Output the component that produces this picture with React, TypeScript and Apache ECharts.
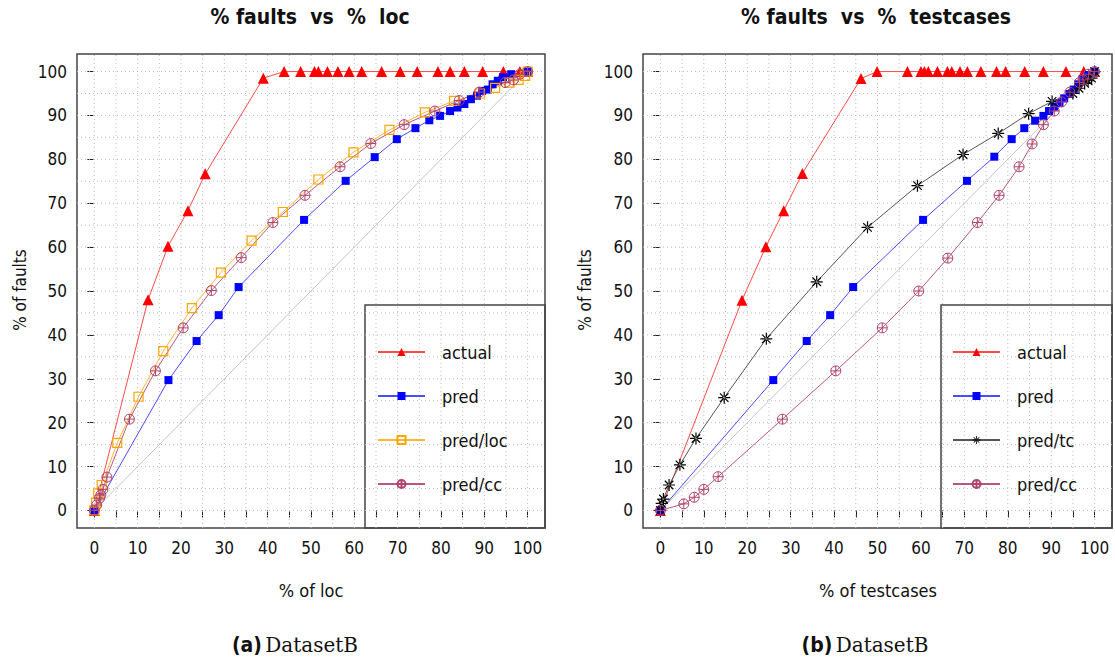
import React, { useEffect, useRef } from "react";
import * as echarts from "echarts";

const FONT = "'Liberation Sans Narrow', 'DejaVu Sans Condensed', 'Liberation Sans', Arial, sans-serif";
const SERIF = "'DejaVu Serif', 'Liberation Serif', serif";
const CAPTION_BOLD = "'DejaVu Sans Condensed', 'Liberation Sans Narrow', sans-serif";

// Gridline, tick and label positions (percent)
const gridValues = [0, 5, 10, 15, 20, 25, 30, 35, 40, 45, 50, 55, 60, 65, 70, 75, 80, 85, 90, 95, 100];
const xTickValues = [0, 5, 10, 15, 20, 25, 30, 35, 40, 45, 50, 55, 60, 65, 70, 75, 80, 85, 90, 95, 100];
const labelValues = [0, 10, 20, 30, 40, 50, 60, 70, 80, 90, 100];
const yTickValues = [0, 10, 20, 30, 40, 50, 60, 70, 80, 90, 100];

// (a) % faults vs % loc
const locActualX = [0, 12.4, 17.0, 21.6, 25.6, 39.0, 43.8, 47.6, 50.8, 51.7, 53.8, 56.2, 58.8, 61.7, 66.3, 70.6, 74.5, 79.3, 82.1, 85.4, 89.6, 94.4, 98.2, 100];
const locActualY = [0, 48.0, 60.2, 68.3, 76.7, 98.5, 100, 100, 100, 100, 100, 100, 100, 100, 100, 100, 100, 100, 100, 100, 100, 100, 100, 100];
const locPredX = [0, 17.1, 23.6, 28.7, 33.3, 48.4, 58.0, 64.7, 69.8, 74.1, 77.3, 79.8, 82.1, 83.8, 85.4, 86.9, 88.3, 89.5, 90.8, 91.9, 93.1, 94.3, 96.2, 100];
const locPredY = [0, 29.7, 38.6, 44.5, 50.9, 66.2, 75.1, 80.5, 84.6, 87.1, 88.9, 89.9, 91.0, 91.8, 92.6, 93.7, 94.5, 95.6, 95.9, 97.1, 97.9, 98.7, 99.4, 100];
const locLocX = [0, 0.4, 0.9, 1.7, 5.3, 10.2, 15.9, 22.5, 29.2, 36.3, 43.5, 51.7, 59.8, 68.1, 76.3, 83.0, 89.0, 92.5, 95.8, 97.9, 99.4, 100];
const locLocY = [0, 1.8, 3.9, 5.8, 15.4, 25.9, 36.3, 46.1, 54.2, 61.5, 68.0, 75.4, 81.6, 86.7, 90.7, 93.3, 95.0, 96.3, 97.5, 98.1, 99.0, 100];
const locCcX = [0, 0.55, 1.2, 1.5, 2.0, 2.9, 8.1, 14.1, 20.5, 27.0, 33.9, 41.2, 48.6, 56.7, 63.8, 71.5, 78.6, 84.2, 88.8, 94.8, 96.7, 98.2, 100];
const locCcY = [0, 1.25, 2.8, 3.5, 4.8, 7.6, 20.8, 31.8, 41.6, 50.1, 57.6, 65.6, 71.8, 78.3, 83.6, 87.9, 91.0, 93.4, 95.3, 97.5, 98.1, 99.4, 100];

// (b) % faults vs % testcases
const tcActualX = [0, 18.8, 24.3, 28.4, 32.7, 46.2, 49.9, 56.9, 60.0, 60.8, 61.7, 63.8, 66.1, 67.1, 69.0, 70.7, 73.8, 77.4, 79.5, 83.9, 88.2, 93.4, 97.5, 100];
const tcActualY = [0, 47.9, 60.1, 68.3, 76.8, 98.4, 100, 100, 100, 100, 100, 100, 100, 100, 100, 100, 100, 100, 100, 100, 100, 100, 100, 100];
const tcPredX = [0, 26.0, 33.7, 39.1, 44.4, 60.5, 70.6, 76.9, 80.9, 83.8, 86.3, 88.2, 89.5, 90.7, 91.9, 93.0, 94.2, 95.2, 96.2, 97.2, 98.4, 100];
const tcPredY = [0, 29.7, 38.6, 44.5, 50.9, 66.2, 75.1, 80.6, 84.6, 87.1, 88.8, 89.9, 91.0, 92.0, 92.8, 93.9, 94.9, 95.9, 97.1, 98.2, 99.2, 100];
const tcTcX = [0, 0.3, 0.7, 2.0, 4.5, 8.2, 14.7, 24.4, 36.0, 47.7, 59.2, 69.7, 77.8, 84.8, 90.2, 95.0, 96.4, 97.7, 98.5, 99.3, 100];
const tcTcY = [0, 1.6, 2.6, 5.8, 10.4, 16.4, 25.7, 39.1, 52.1, 64.5, 74.0, 81.1, 85.9, 90.4, 93.2, 95.0, 96.2, 97.3, 97.9, 98.5, 100];
const tcCcX = [0, 5.4, 7.8, 10.0, 13.3, 28.1, 40.4, 51.1, 59.5, 66.2, 73.0, 78.0, 82.6, 85.6, 88.2, 90.7, 92.4, 94.3, 96.5, 97.3, 98.6, 100];
const tcCcY = [0, 1.5, 3.0, 4.8, 7.7, 20.8, 31.8, 41.6, 50.0, 57.5, 65.6, 71.8, 78.3, 83.5, 87.9, 91.0, 93.1, 95.3, 97.5, 98.1, 99.4, 100];

// Reference diagonal
const diagX = [0, 100];
const diagY = [0, 100];

// Circle with a plus, stroked
const CIRCLE_PLUS = "path://M0,-10A10,10 0 1,1 0,10A10,10 0 1,1 0,-10ZM-10,0L10,0M0,-10L0,10";
// Eight-armed asterisk built from thin filled bars
const ASTERISK =
  "path://M-10,-1L10,-1L10,1L-10,1Z" +
  "M-1,-10L1,-10L1,10L-1,10Z" +
  "M6.36,7.78L7.78,6.36L-6.36,-7.78L-7.78,-6.36Z" +
  "M7.78,-6.36L6.36,-7.78L-7.78,6.36L-6.36,7.78Z";

const pairs = (xs: number[], ys: number[]) => xs.map((x, i) => [x, ys[i]]);

type Style = { name: string; symbol: string; size: number; fill: string; stroke: string; strokeWidth: number; line: string };

const STYLES: Record<string, Style> = {
  actual: { name: "actual", symbol: "triangle", size: 11, fill: "#ff0000", stroke: "#ff0000", strokeWidth: 0, line: "#ff4a4a" },
  pred: { name: "pred", symbol: "rect", size: 8, fill: "#0000ff", stroke: "#0000ff", strokeWidth: 0, line: "#4a4aff" },
  loc: { name: "pred/loc", symbol: "rect", size: 9, fill: "rgba(0,0,0,0)", stroke: "#ffa500", strokeWidth: 1.2, line: "#ffb733" },
  cc: { name: "pred/cc", symbol: CIRCLE_PLUS, size: 10, fill: "rgba(0,0,0,0)", stroke: "#b0446e", strokeWidth: 1, line: "#b8577e" },
  tc: { name: "pred/tc", symbol: ASTERISK, size: 12, fill: "#000000", stroke: "#000000", strokeWidth: 0, line: "#555555" },
};

function lineSeries(style: Style, xs: number[], ys: number[], idx: number) {
  return {
    type: "line",
    name: style.name,
    xAxisIndex: idx,
    yAxisIndex: idx,
    data: pairs(xs, ys),
    symbol: style.symbol,
    symbolSize: style.size,
    showSymbol: true,
    showAllSymbol: true,
    lineStyle: { color: style.line, width: 1 },
    itemStyle: { color: style.fill, borderColor: style.stroke, borderWidth: style.strokeWidth },
    emphasis: { disabled: true },
    silent: true,
    z: 3,
  };
}

function diagonalSeries(idx: number) {
  return {
    type: "line",
    name: "diag",
    xAxisIndex: idx,
    yAxisIndex: idx,
    data: pairs(diagX, diagY),
    showSymbol: false,
    symbol: "none",
    lineStyle: { color: "#c4c4c4", width: 1 },
    emphasis: { disabled: true },
    silent: true,
    z: 2,
  };
}

// Dotted background grid, one vertical and one horizontal line per value
function gridSeries(idx: number) {
  return {
    type: "custom",
    name: "grid",
    xAxisIndex: idx,
    yAxisIndex: idx,
    data: gridValues.map((v) => [v, v]),
    encode: { x: 0, y: 1 },
    silent: true,
    clip: false,
    z: 1,
    renderItem: (_params: any, api: any) => {
      const v = api.value(0);
      const a = api.coord([v, -4]);
      const b = api.coord([v, 104]);
      const c = api.coord([-4, v]);
      const d = api.coord([104, v]);
      const style = { stroke: "#bdbdbd", lineWidth: 1, lineDash: [1, 3], fill: null };
      return {
        type: "group",
        children: [
          { type: "line", shape: { x1: a[0], y1: a[1], x2: b[0], y2: b[1] }, style },
          { type: "line", shape: { x1: c[0], y1: c[1], x2: d[0], y2: d[1] }, style },
        ],
      };
    },
  };
}

function xAxisFor(idx: number) {
  return {
    type: "value",
    gridIndex: idx,
    min: -4,
    max: 104,
    axisLine: { show: false },
    axisTick: { show: true, inside: false, length: 7, customValues: xTickValues, lineStyle: { color: "#222", width: 1 } },
    axisLabel: { customValues: labelValues, margin: 11, color: "#111", fontFamily: FONT, fontSize: 17 },
    splitLine: { show: false },
  };
}

function yAxisFor(idx: number) {
  return {
    type: "value",
    gridIndex: idx,
    min: -4,
    max: 104,
    axisLine: { show: false },
    axisTick: { show: true, inside: false, length: 7, customValues: yTickValues, lineStyle: { color: "#222", width: 1 } },
    axisLabel: { customValues: labelValues, margin: 10, color: "#111", fontFamily: FONT, fontSize: 17 },
    splitLine: { show: false },
  };
}

function legendFor(left: number, names: string[]) {
  return {
    show: true,
    orient: "vertical",
    left,
    top: 338,
    itemWidth: 47,
    itemHeight: 10,
    itemGap: 26,
    selectedMode: false,
    data: names,
    textStyle: { fontFamily: FONT, fontSize: 18, color: "#111", padding: [0, 0, 0, 12] },
  };
}

const textEl = (x: number, y: number, text: string, style: any, rotation = 0) => ({
  type: "text",
  x,
  y,
  rotation,
  silent: true,
  style: { text, textAlign: "center", textVerticalAlign: "middle", fill: "#111", fontFamily: FONT, ...style },
});

const captionEl = (x: number, tag: string) => ({
  type: "text",
  x,
  y: 645,
  silent: true,
  style: {
    text: `{b|(${tag})} {s|DatasetB}`,
    textAlign: "center",
    textVerticalAlign: "middle",
    rich: {
      b: { fontFamily: CAPTION_BOLD, fontWeight: "bold", fontSize: 21, fill: "#111" },
      s: { fontFamily: SERIF, fontSize: 20, fill: "#111" },
    },
  },
});

export default function App() {
  const ref = useRef<HTMLDivElement>(null);

  useEffect(() => {
    if (!ref.current) return;
    const chart = echarts.init(ref.current, null, { renderer: "svg" });
    chart.setOption({
      animation: false,
      backgroundColor: "#ffffff",
      grid: [
        { left: 77, top: 54, width: 468, height: 474, show: true, borderColor: "#444", borderWidth: 1.5, backgroundColor: "transparent" },
        { left: 643, top: 54, width: 469, height: 474, show: true, borderColor: "#444", borderWidth: 1.5, backgroundColor: "transparent" },
      ],
      xAxis: [xAxisFor(0), xAxisFor(1)],
      yAxis: [yAxisFor(0), yAxisFor(1)],
      legend: [
        legendFor(372, ["actual", "pred", "pred/loc", "pred/cc"]),
        legendFor(947, ["actual", "pred", "pred/tc", "pred/cc"]),
      ],
      series: [
        gridSeries(0),
        diagonalSeries(0),
        lineSeries(STYLES.actual, locActualX, locActualY, 0),
        lineSeries(STYLES.pred, locPredX, locPredY, 0),
        lineSeries(STYLES.loc, locLocX, locLocY, 0),
        lineSeries(STYLES.cc, locCcX, locCcY, 0),
        gridSeries(1),
        diagonalSeries(1),
        lineSeries(STYLES.actual, tcActualX, tcActualY, 1),
        lineSeries(STYLES.pred, tcPredX, tcPredY, 1),
        lineSeries(STYLES.tc, tcTcX, tcTcY, 1),
        lineSeries(STYLES.cc, tcCcX, tcCcY, 1),
      ],
      graphic: [
        { type: "rect", silent: true, shape: { x: 365, y: 305, width: 180, height: 223 }, style: { fill: "none", stroke: "#444", lineWidth: 1.5 } },
        { type: "rect", silent: true, shape: { x: 941, y: 305, width: 171, height: 223 }, style: { fill: "none", stroke: "#444", lineWidth: 1.5 } },
        textEl(310, 17, "% faults  vs  %  loc", { fontSize: 21, fontWeight: "bold" }),
        textEl(876, 17, "% faults  vs  %  testcases", { fontSize: 21, fontWeight: "bold" }),
        textEl(311, 590, "% of loc", { fontSize: 18 }),
        textEl(878, 590, "% of testcases", { fontSize: 18 }),
        textEl(20, 290, "% of faults", { fontSize: 17 }, Math.PI / 2),
        textEl(585, 290, "% of faults", { fontSize: 17 }, Math.PI / 2),
        captionEl(295, "a"),
        captionEl(865, "b"),
      ],
    });
    return () => chart.dispose();
  }, []);

  return <div ref={ref} style={{ position: "absolute", left: 0, top: 0, width: 1115, height: 665 }} />;
}
